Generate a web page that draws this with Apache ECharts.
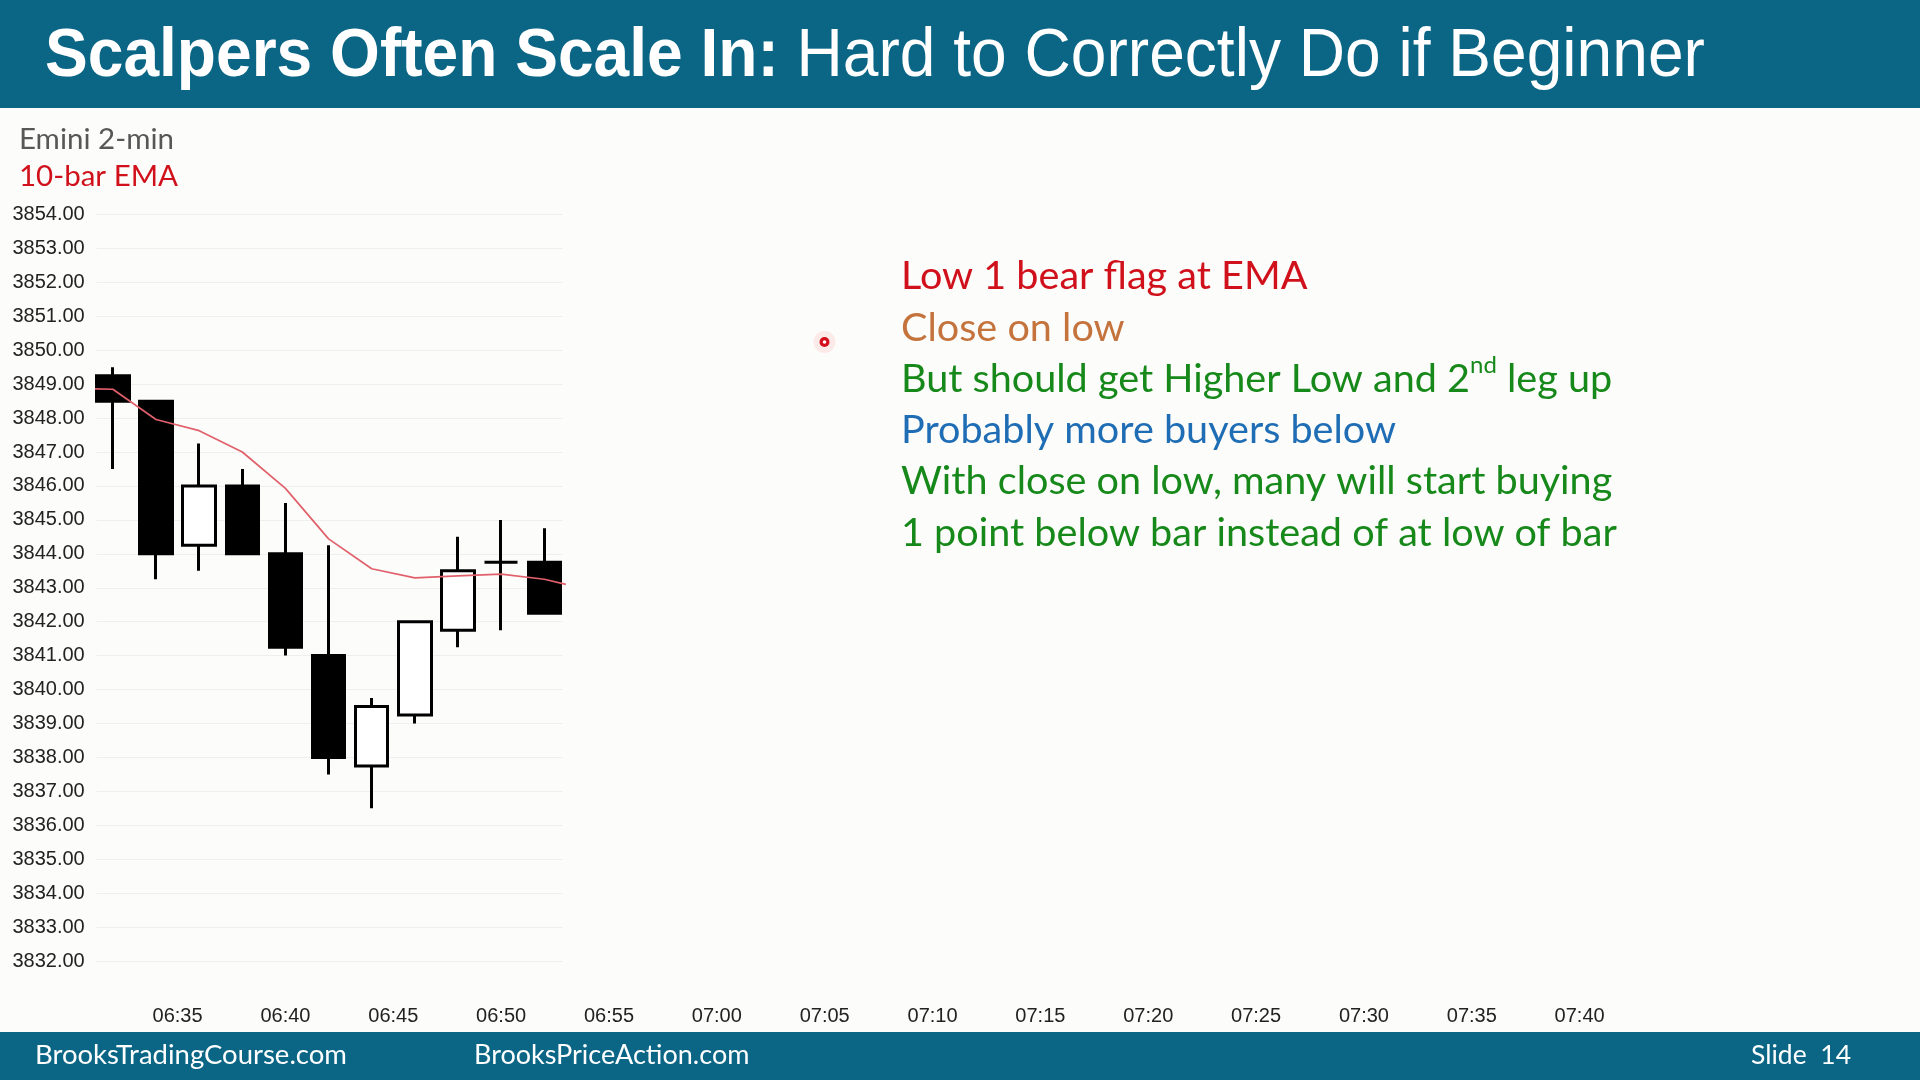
<!DOCTYPE html>
<html>
<head>
<meta charset="utf-8">
<script src="https://cdn.jsdelivr.net/npm/echarts@6/dist/echarts.min.js"></script>
<style>
html,body{margin:0;padding:0;background:#fcfcfa;}
#c{width:1920px;height:1080px;}
</style>
</head>
<body>
<div id="c"></div>
<script>
// ---- data ----
const barTimes   = ['06:32','06:34','06:36','06:38','06:40','06:42','06:44','06:46','06:48','06:50','06:52'];
const openVals   = [3849.25, 3848.5, 3844.25, 3846.0, 3844.0, 3841.0, 3837.75, 3839.25, 3841.75, 3843.75, 3843.75];
const closeVals  = [3848.5, 3844.0, 3846.0, 3844.0, 3841.25, 3838.0, 3839.5, 3842.0, 3843.5, 3843.75, 3842.25];
const lowVals    = [3846.5, 3843.25, 3843.5, 3844.0, 3841.0, 3837.5, 3836.5, 3839.0, 3841.25, 3841.75, 3842.25];
const highVals   = [3849.5, 3848.5, 3847.25, 3846.5, 3845.5, 3844.25, 3839.75, 3842.0, 3844.5, 3845.0, 3844.75];
const emaTimes   = ['06:30','06:32','06:34','06:36','06:38','06:40','06:42','06:44','06:46','06:48','06:50','06:52','06:53'];
const emaVals    = [3848.87, 3848.85, 3847.96, 3847.63, 3847.0, 3845.93, 3844.44, 3843.56, 3843.29, 3843.35, 3843.4, 3843.25, 3843.1];
const xTickLabels = ['06:35','06:40','06:45','06:50','06:55','07:00','07:05','07:10','07:15','07:20','07:25','07:30','07:35','07:40'];
const yMin = 3832, yMax = 3854, yStep = 1;
const titleBold = 'Scalpers Often Scale In:';
const titleRest = ' Hard to Correctly Do if Beginner';
const chartName = 'Emini 2-min';
const emaName = '10-bar EMA';
const footerLeft = 'BrooksTradingCourse.com';
const footerMid = 'BrooksPriceAction.com';
const footerRight = 'Slide  14';
const notes = [
  {text: '{n|Low 1 bear flag at EMA}', color: '#d0111b'},
  {text: '{n|Close on low}', color: '#c4733c'},
  {text: '{n|But should get Higher Low and 2}{s|nd}{n| leg up}', color: '#17891a'},
  {text: '{n|Probably more buyers below}', color: '#1f6db5'},
  {text: '{n|With close on low, many will start buying}', color: '#17891a'},
  {text: '{n|1 point below bar instead of at low of bar}', color: '#17891a'}
];

// ---- helpers ----
const toMin = s => { const p = s.split(':'); return (+p[0]) * 60 + (+p[1]); };
const fmtMin = v => { const h = Math.floor(v / 60), m = Math.round(v - h * 60); return String(h).padStart(2,'0') + ':' + String(m).padStart(2,'0'); };

const candleData = barTimes.map((t, i) => [toMin(t), openVals[i], closeVals[i], lowVals[i], highVals[i]]);
const emaData = emaTimes.map((t, i) => [toMin(t), emaVals[i]]);

const chart = echarts.init(document.getElementById('c'), null, {renderer: 'canvas'});

const GRID_TOP = 214.5, GRID_H = 746.5;
const notesX = 901, notesY0 = 273.5, notesDy = 51.3;
const notesFont = 'Lato';

const graphics = [
  {type: 'rect', shape: {x: 0, y: 0, width: 1920, height: 108}, style: {fill: '#0b6686'}, z: 0},
  {type: 'rect', shape: {x: 0, y: 1032, width: 1920, height: 48}, style: {fill: '#0b6686'}, z: 0},
  {type: 'text', x: 45, y: 57, scaleX: 0.9425, z: 2,
    style: {text: '{b|' + titleBold + '}{r|' + titleRest + '}', verticalAlign: 'middle', align: 'left',
      rich: {
        b: {fontFamily: '"Liberation Sans", Arial, sans-serif', fontWeight: 'bold', fontSize: 68, fill: '#ffffff'},
        r: {fontFamily: '"Liberation Sans", Arial, sans-serif', fontWeight: 'normal', fontSize: 68, fill: '#ffffff'}
      }}},
  {type: 'text', x: 19, y: 139, z: 2, style: {text: chartName, fill: '#575757', font: '29.5px Lato', verticalAlign: 'middle'}},
  {type: 'text', x: 19, y: 176, z: 2, style: {text: emaName, fill: '#d0111b', font: '29.5px Lato', verticalAlign: 'middle'}},
  {type: 'text', x: 35, y: 1055, z: 2, style: {text: footerLeft, fill: '#ffffff', font: '27.5px Lato', verticalAlign: 'middle'}},
  {type: 'text', x: 474, y: 1055, z: 2, style: {text: footerMid, fill: '#ffffff', font: '27px Lato', verticalAlign: 'middle'}},
  {type: 'text', x: 1851, y: 1055, z: 2, style: {text: footerRight, fill: '#ffffff', font: '26.5px Lato', verticalAlign: 'middle', align: 'right'}},
  {type: 'circle', shape: {cx: 824.5, cy: 342, r: 11}, style: {fill: 'rgba(255,110,110,0.12)'}, z: 3},
  {type: 'circle', shape: {cx: 824.5, cy: 342, r: 5}, style: {fill: '#d3101c'}, z: 3},
  {type: 'circle', shape: {cx: 824.5, cy: 342, r: 1.8}, style: {fill: '#ffffff'}, z: 3}
];
notes.forEach((ln, i) => {
  graphics.push({type: 'text', x: notesX, y: notesY0 + i * notesDy, z: 2,
    style: {text: ln.text, verticalAlign: 'middle', align: 'left',
      rich: {
        n: {fontFamily: notesFont, fontSize: 39.6, fill: ln.color, lineHeight: 46, verticalAlign: 'bottom'},
        s: {fontFamily: notesFont, fontSize: 24, fill: ln.color, lineHeight: 46, verticalAlign: 'top'}
      }}});
});

const option = {
  animation: false,
  backgroundColor: '#fcfcfa',
  grid: [
    {left: 96.7, right: 232.5, top: GRID_TOP, height: GRID_H},
    {left: 96.7, width: 466, top: GRID_TOP, height: GRID_H}
  ],
  xAxis: [
    {type: 'value', gridIndex: 0, min: 391.25, max: 465,
      axisLine: {show: false}, axisTick: {show: false}, splitLine: {show: false},
      axisLabel: {customValues: xTickLabels.map(toMin), formatter: v => fmtMin(v), margin: 45,
        fontSize: 20, color: '#222222', fontFamily: '"Liberation Sans", Arial, sans-serif'}},
    {type: 'value', gridIndex: 1, min: 0, max: 1, show: false}
  ],
  yAxis: [
    {type: 'value', gridIndex: 0, min: yMin, max: yMax, interval: yStep,
      axisLine: {show: false}, axisTick: {show: false}, splitLine: {show: false},
      axisLabel: {formatter: v => v.toFixed(2), margin: 12, fontSize: 20, color: '#222222',
        fontFamily: '"Liberation Sans", Arial, sans-serif'}},
    {type: 'value', gridIndex: 1, min: yMin, max: yMax, interval: yStep,
      axisLine: {show: false}, axisTick: {show: false}, axisLabel: {show: false},
      splitLine: {show: true, lineStyle: {color: '#efefef', width: 1.2}}}
  ],
  series: [
    {type: 'candlestick', xAxisIndex: 0, yAxisIndex: 0, data: candleData,
      encode: {x: 0, y: [1, 2, 3, 4]},
      barWidth: 33,
      itemStyle: {color: '#ffffff', color0: '#000000', borderColor: '#000000', borderColor0: '#000000', borderWidth: 3},
      z: 3},
    {type: 'line', xAxisIndex: 0, yAxisIndex: 0, data: emaData, showSymbol: false, symbol: 'none',
      lineStyle: {color: '#e0606c', width: 1.7}, z: 5}
  ],
  graphic: graphics
};
chart.setOption(option);
</script>
</body>
</html>
